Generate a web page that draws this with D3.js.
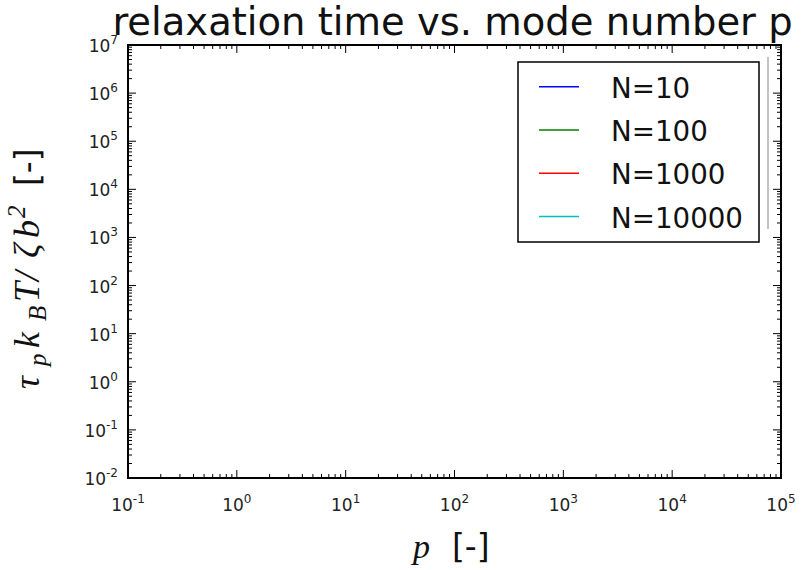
<!DOCTYPE html>
<html>
<head>
<meta charset="utf-8">
<script src="https://cdn.jsdelivr.net/npm/d3@7"></script>
<style>
  body { margin: 0; background: #fff; }
  svg { display: block; }
</style>
</head>
<body>
<div id="chart"></div>
<script>
// empty log-log axes, only the legend has entries
let seriesNames = ["N=10", "N=100", "N=1000", "N=10000"];
let seriesColours = ["#0000ff", "#008000", "#ff0000", "#00bfbf"];
let xDomain = [1e-1, 1e5];
let yDomain = [1e-2, 1e7];
let xTickExps = [-1, 0, 1, 2, 3, 4, 5];
let yTickExps = [-2, -1, 0, 1, 2, 3, 4, 5, 6, 7];

function graph(id) {
	let width = 801, height = 570;
	let left = 128, right = 781, top = 45, bottom = 478;

	let svg = d3.select(id).append("svg")
		.attr("width", width)
		.attr("height", height);

	let x = d3.scaleLog().domain(xDomain).range([left, right]);
	let y = d3.scaleLog().domain(yDomain).range([bottom, top]);

	// minor ticks 2..9 of every decade
	let minor = (dom) => {
		let out = [];
		for (let e = Math.log10(dom[0]); e < Math.log10(dom[1]); e++)
			for (let k = 2; k <= 9; k++) out.push(k * Math.pow(10, e));
		return out;
	};

	let g = svg.append("g").attr("stroke", "#000").attr("stroke-width", 1);
	let xMaj = xTickExps.map((e) => Math.pow(10, e));
	let yMaj = yTickExps.map((e) => Math.pow(10, e));

	[[xMaj, 8], [minor(xDomain), 4]].forEach(([ticks, len]) => {
		ticks.forEach((t) => {
			g.append("line").attr("x1", x(t)).attr("x2", x(t)).attr("y1", bottom).attr("y2", bottom - len);
			g.append("line").attr("x1", x(t)).attr("x2", x(t)).attr("y1", top).attr("y2", top + len);
		});
	});
	[[yMaj, 8], [minor(yDomain), 4]].forEach(([ticks, len]) => {
		ticks.forEach((t) => {
			g.append("line").attr("y1", y(t)).attr("y2", y(t)).attr("x1", left).attr("x2", left + len);
			g.append("line").attr("y1", y(t)).attr("y2", y(t)).attr("x1", right).attr("x2", right - len);
		});
	});

	svg.append("rect")
		.attr("x", left).attr("y", top)
		.attr("width", right - left).attr("height", bottom - top)
		.attr("fill", "none").attr("stroke", "#000").attr("stroke-width", 2);

	// tick labels
	let font = "DejaVu Sans, sans-serif";
	let sup = (e) => (e < 0 ? "-" + Math.abs(e) : "" + e);
	xTickExps.forEach((e) => {
		let t = svg.append("text")
			.attr("x", x(Math.pow(10, e)))
			.attr("y", 511)
			.attr("text-anchor", "middle")
			.attr("font-family", font).attr("font-size", 17).attr("fill", "#222");
		t.append("tspan").text("10");
		t.append("tspan").attr("dy", -8).attr("font-size", 12).text(sup(e));
	});
	yTickExps.forEach((e) => {
		let t = svg.append("text")
			.attr("x", 118)
			.attr("y", y(Math.pow(10, e)) + 7)
			.attr("text-anchor", "end")
			.attr("font-family", font).attr("font-size", 17).attr("fill", "#222");
		t.append("tspan").text("10");
		t.append("tspan").attr("dy", -8).attr("font-size", 12).text(sup(e));
	});

	// title
	svg.append("text")
		.attr("x", 452.5).attr("y", 35)
		.attr("text-anchor", "middle")
		.attr("font-family", font).attr("font-size", 38.5).attr("fill", "#111")
		.text("relaxation time vs. mode number p");

	// x label
	let serif = "Liberation Serif, DejaVu Serif, serif";
	let xl = svg.append("text")
		.attr("y", 558)
		.attr("font-size", 34).attr("fill", "#111");
	xl.append("tspan").attr("x", 413).attr("font-family", serif).attr("font-style", "italic").text("p");
	xl.append("tspan").attr("x", 452).attr("font-family", font).attr("font-size", 33).text("[-]");

	// y label, rotated; x inside = -screen y
	let yl = svg.append("text")
		.attr("transform", "translate(39,0) rotate(-90)")
		.attr("fill", "#111");
	let piece = (s, at, size, dy, sans) => yl.append("tspan")
		.attr("x", -at).attr("y", dy)
		.attr("font-family", sans ? font : serif)
		.attr("font-style", sans ? "normal" : "italic")
		.attr("font-size", size).text(s);
	piece("τ", 389, 36, 0);
	piece("p", 366, 25, 7);
	piece("k", 348, 36, 0);
	piece("B", 321, 25, 7);
	piece("T", 302, 36, 0);
	piece("/", 281, 36, 0);
	piece("ζ", 258, 36, 0);
	piece("b", 238, 36, 0);
	piece("2", 218, 25, -14);
	piece("[-]", 186, 33, 0, true);

	// legend
	let lg = svg.append("g");
	lg.append("rect")
		.attr("x", 518).attr("y", 62).attr("width", 241).attr("height", 180)
		.attr("fill", "#fff").attr("stroke", "#000").attr("stroke-width", 1.5);
	seriesNames.forEach((name, i) => {
		let cy = 86.7 + i * 43.3;
		lg.append("line")
			.attr("x1", 539).attr("x2", 579).attr("y1", cy).attr("y2", cy)
			.attr("stroke", seriesColours[i]).attr("stroke-width", 1.5);
		lg.append("text")
			.attr("x", 611).attr("y", cy + 11)
			.attr("font-family", font).attr("font-size", 27.7).attr("fill", "#111")
			.text(name);
	});
	// faint stray line right of the legend
	svg.append("line")
		.attr("x1", 768).attr("x2", 768).attr("y1", 57).attr("y2", 229)
		.attr("stroke", "#888").attr("stroke-width", 1);
}

graph("#chart");
</script>
</body>
</html>
